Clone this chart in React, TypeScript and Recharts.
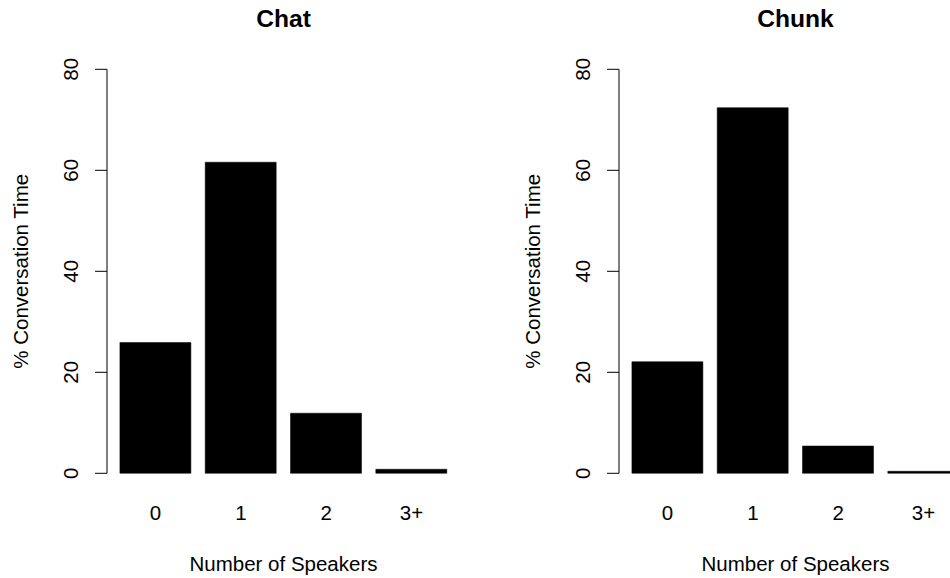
import React from 'react';
import { BarChart, Bar, XAxis, YAxis, Label } from 'recharts';

const categories = ['0', '1', '2', '3+'];
const chatValues = [25.9, 61.6, 11.9, 0.8];
const chunkValues = [22.1, 72.4, 5.4, 0.4];
const yTicks = [0, 20, 40, 60, 80];
const panelTitles = ['Chat', 'Chunk'];
const xAxisTitle = 'Number of Speakers';
const yAxisTitle = '% Conversation Time';

const FONT = '"Liberation Sans", Arial, Helvetica, sans-serif';
const LABEL_SIZE = 20.5;
const TITLE_SIZE = 24.6;

const CHART_W = 560;
const CHART_H = 578;
const PLOT_LEFT = 107;
const PLOT_RIGHT = 460;
const PLOT_TOP = 69.3;
const PLOT_BOTTOM = 473.3;
const X_AXIS_H = 30;

const YTick = (props: any) => {
  const { y, payload } = props;
  const bx = 77.7;
  return (
    <text
      x={bx}
      y={y}
      transform={`rotate(-90, ${bx}, ${y})`}
      textAnchor="middle"
      fontFamily={FONT}
      fontSize={LABEL_SIZE}
      fill="#000"
    >
      {payload.value}
    </text>
  );
};

const XTick = (props: any) => {
  const { x, payload } = props;
  return (
    <text x={x} y={519.5} textAnchor="middle" fontFamily={FONT} fontSize={LABEL_SIZE} fill="#000">
      {payload.value}
    </text>
  );
};

function Panel({ values, title }: { values: number[]; title: string }) {
  const data = categories.map((c, i) => ({ cat: c, value: values[i] }));
  const midX = (PLOT_LEFT + PLOT_RIGHT) / 2;
  const midY = (PLOT_TOP + PLOT_BOTTOM) / 2;
  return (
    <BarChart
      width={CHART_W}
      height={CHART_H}
      data={data}
      margin={{ top: PLOT_TOP, bottom: CHART_H - PLOT_BOTTOM - X_AXIS_H, left: 0, right: CHART_W - PLOT_RIGHT }}
    >
      <XAxis
        dataKey="cat"
        type="category"
        height={X_AXIS_H}
        axisLine={false}
        tickLine={false}
        padding={{ left: 5.9, right: 5.9 }}
        tick={<XTick />}
        interval={0}
      >
        <Label
          content={() => (
            <text x={midX} y={571.3} textAnchor="middle" fontFamily={FONT} fontSize={LABEL_SIZE} fill="#000">
              {xAxisTitle}
            </text>
          )}
        />
      </XAxis>
      <YAxis
        type="number"
        domain={[0, 80]}
        ticks={yTicks}
        interval={0}
        width={PLOT_LEFT}
        tickSize={12}
        axisLine={{ stroke: '#000', strokeWidth: 1 }}
        tickLine={{ stroke: '#000', strokeWidth: 1 }}
        tick={<YTick />}
      >
        <Label
          content={() => (
            <text
              x={28}
              y={midY}
              transform={`rotate(-90, 28, ${midY})`}
              textAnchor="middle"
              fontFamily={FONT}
              fontSize={LABEL_SIZE}
              fill="#000"
            >
              {yAxisTitle}
            </text>
          )}
        />
        <Label
          content={() => (
            <text
              x={midX}
              y={26.7}
              textAnchor="middle"
              fontFamily={FONT}
              fontSize={TITLE_SIZE}
              fontWeight="bold"
              fill="#000"
            >
              {title}
            </text>
          )}
        />
      </YAxis>
      <Bar dataKey="value" fill="#000" stroke="#000" strokeWidth={0.5} barSize={71} isAnimationActive={false} />
    </BarChart>
  );
}

export default function App() {
  return (
    <div
      style={{
        position: 'fixed',
        left: 0,
        top: 0,
        width: 950,
        height: 578,
        overflow: 'hidden',
        background: '#fff',
      }}
    >
      <div style={{ position: 'absolute', left: 0, top: 0 }}>
        <Panel values={chatValues} title={panelTitles[0]} />
      </div>
      <div style={{ position: 'absolute', left: 512, top: 0 }}>
        <Panel values={chunkValues} title={panelTitles[1]} />
      </div>
    </div>
  );
}
